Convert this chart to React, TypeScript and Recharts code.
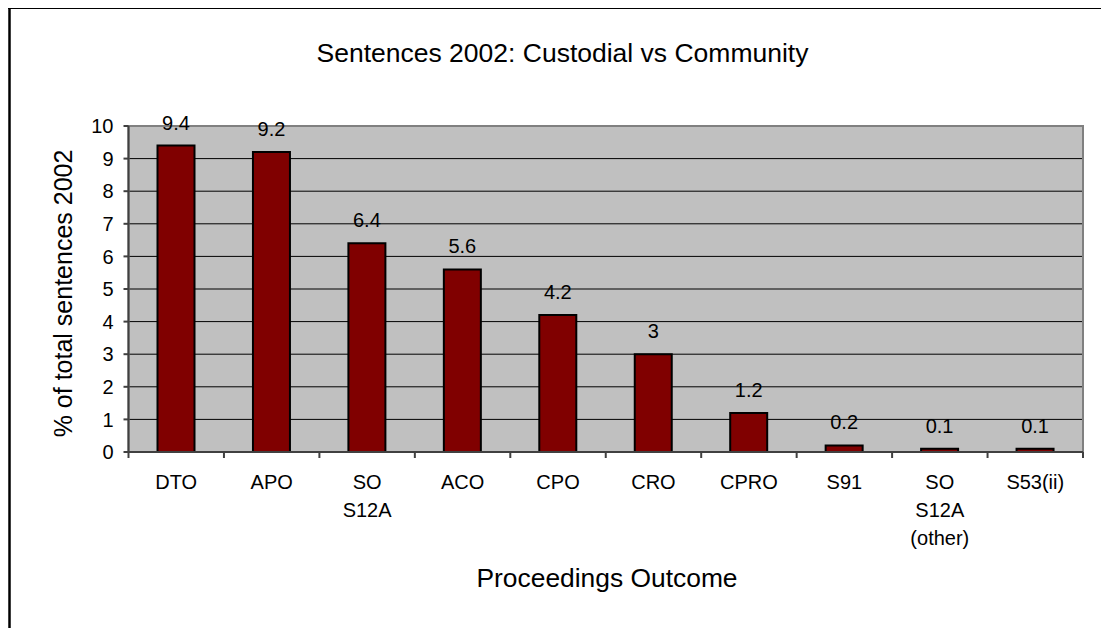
import {
  Bar,
  BarChart,
  CartesianGrid,
  LabelList,
  ReferenceArea,
  XAxis,
  YAxis,
} from "recharts";

const OUTCOMES = ["DTO", "APO", "SO\nS12A", "ACO", "CPO", "CRO", "CPRO", "S91", "SO\nS12A\n(other)", "S53(ii)"];
const PERCENTS = [9.4, 9.2, 6.4, 5.6, 4.2, 3, 1.2, 0.2, 0.1, 0.1];
const Y_TICKS = [0, 1, 2, 3, 4, 5, 6, 7, 8, 9, 10];

const BAR_FILL = "#800000";
const PLOT_BG = "#C0C0C0";
const FONT = "'Liberation Sans', Arial, sans-serif";

const W = 1101;
const H = 620;

const data = OUTCOMES.map((name, i) => ({ name, value: PERCENTS[i] }));

function OutcomeTick(props: any) {
  const { x, y, payload, index, visibleTicksCount, width } = props;
  const half = payload.offset ?? width / (2 * visibleTicksCount);
  const lines = String(payload.value).split("\n");
  const last = index === visibleTicksCount - 1;
  return (
    <g>
      <line x1={x - half} x2={x - half} y1={y} y2={y + 6} stroke="#404040" strokeWidth={2} />
      {last && <line x1={x + half} x2={x + half} y1={y} y2={y + 6} stroke="#404040" strokeWidth={2} />}
      <text textAnchor="middle" fontSize={20} fill="#000">
        {lines.map((l, i) => (
          <tspan key={i} x={x} y={y + 37 + i * 28}>
            {l}
          </tspan>
        ))}
      </text>
    </g>
  );
}

export default function App() {
  return (
    <div style={{ position: "relative", width: W, height: H, fontFamily: FONT }}>
      <BarChart
        width={W}
        height={H}
        data={data}
        margin={{ top: 118, right: 26, left: 0, bottom: 0 }}
      >
        <CartesianGrid vertical={false} stroke="#000" fill={PLOT_BG} fillOpacity={1} />
        <ReferenceArea y1={0} y2={10} fill="none" stroke="#808080" strokeWidth={2} ifOverflow="visible" />
        <Bar dataKey="value" fill={BAR_FILL} stroke="#000" strokeWidth={2} barSize={37} isAnimationActive={false}>
          <LabelList dataKey="value" position="top" offset={16} fontSize={20} fill="#000" />
        </Bar>
        <XAxis
          dataKey="name"
          interval={0}
          height={H - 444}
          tickSize={0}
          tickMargin={0}
          tickLine={false}
          axisLine={{ stroke: "#404040", strokeWidth: 2 }}
          tick={<OutcomeTick />}
        />
        <YAxis
          width={120.5}
          domain={[0, 10]}
          ticks={Y_TICKS}
          interval={0}
          tickSize={5}
          tickMargin={10}
          axisLine={{ stroke: "#404040", strokeWidth: 2 }}
          tickLine={{ stroke: "#404040", strokeWidth: 2 }}
          tick={{ fill: "#000", fontSize: 20 }}
        />
      </BarChart>
      <svg
        width={W}
        height={H}
        style={{ position: "absolute", left: 0, top: 0, overflow: "visible", pointerEvents: "none" }}
      >
        <line x1={0} x2={W} y1={0} y2={0} stroke="#000" strokeWidth={2} />
        <line x1={1.5} x2={1.5} y1={-1} y2={H} stroke="#000" strokeWidth={2.5} />
        <text x={554.5} y={54} textAnchor="middle" fontSize={26.5} fill="#000">
          Sentences 2002: Custodial vs Community
        </text>
        <text x={599} y={579} textAnchor="middle" fontSize={26.4} fill="#000">
          Proceedings Outcome
        </text>
        <text x={64} y={285.5} textAnchor="middle" fontSize={25} fill="#000" transform="rotate(-90, 64, 285.5)">
          % of total sentences 2002
        </text>
      </svg>
    </div>
  );
}
